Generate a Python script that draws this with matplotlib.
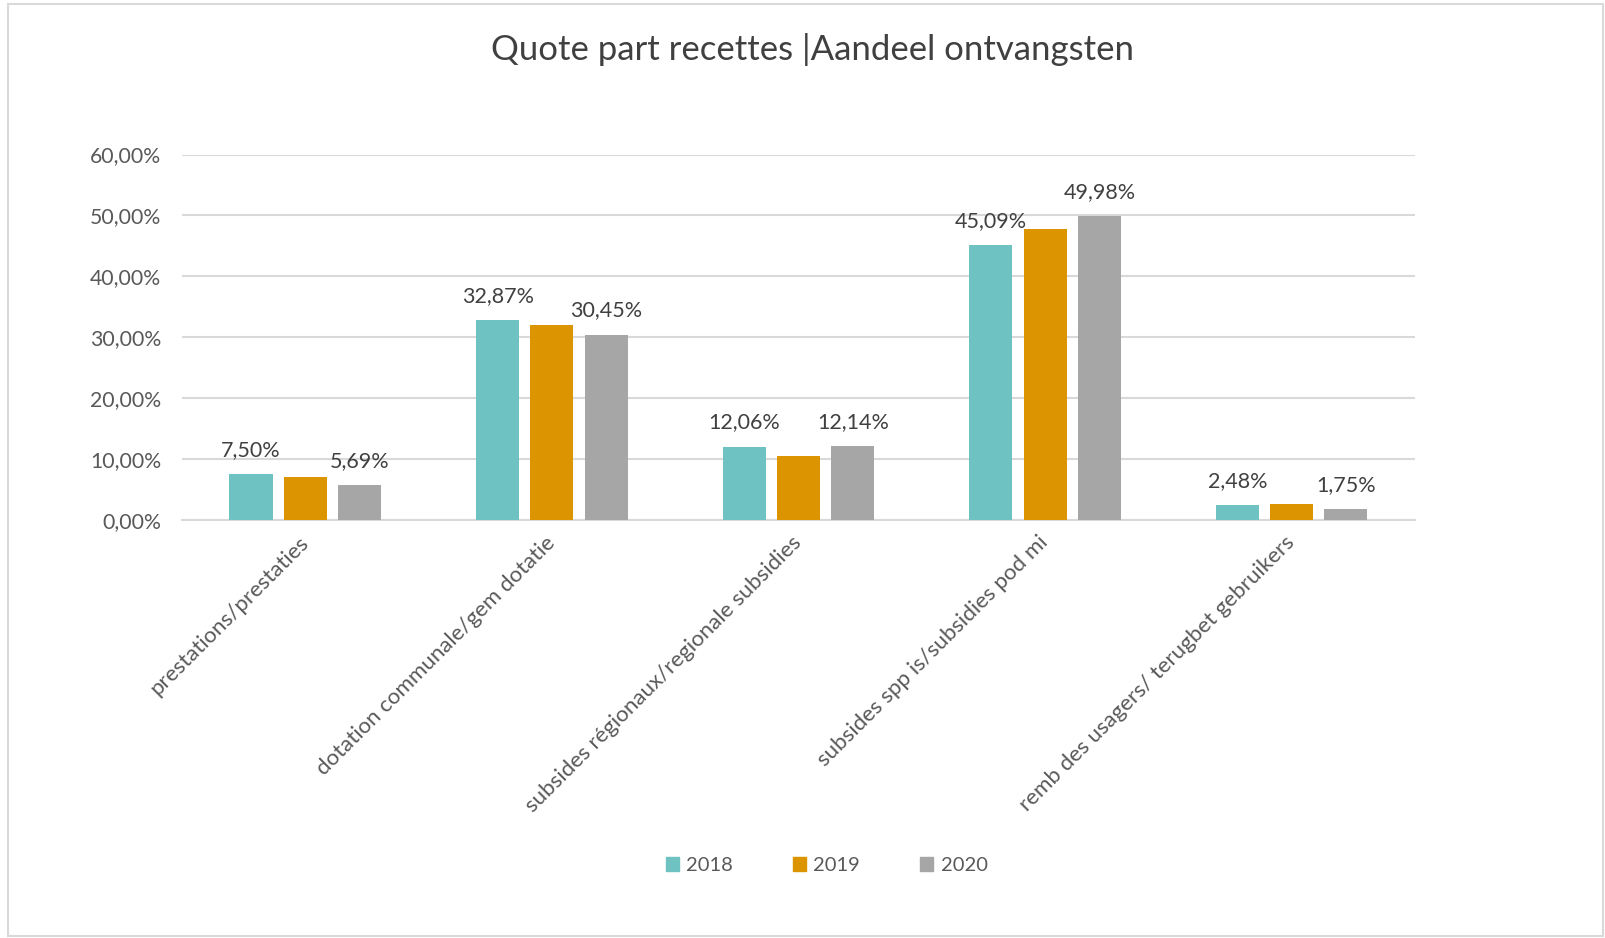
import numpy as np
import matplotlib.pyplot as plt
from matplotlib.patches import Patch, Rectangle
from matplotlib.ticker import FuncFormatter

plt.rcParams['font.family'] = ['Lato', 'DejaVu Sans']

# Data (percentages)
categories = ['prestations/prestaties', 'dotation communale/gem dotatie',
              'subsides régionaux/regionale subsidies', 'subsides spp is/subsidies pod mi',
              'remb des usagers/ terugbet gebruikers']
years = ['2018', '2019', '2020']
v2018 = [7.50, 32.87, 12.06, 45.09, 2.48]
v2019 = [7.1, 32.0, 10.5, 47.7, 2.6]
v2020 = [5.69, 30.45, 12.14, 49.98, 1.75]
labelled = [True, False, True]

colors = ['#6EC3C2', '#DC9400', '#A6A6A6']
text_col = '#404040'

fig = plt.figure(figsize=(16.05, 9.38), dpi=100)
ax = fig.add_axes([0.1134, 0.4456, 0.7682, 0.3896])

x = np.arange(len(categories))
width = 0.175
offsets = [-0.22, 0.0, 0.22]
for vals, off, col, year, lab in zip([v2018, v2019, v2020], offsets, colors, years, labelled):
    bars = ax.bar(x + off, vals, width, color=col, zorder=3, label=year)
    if lab:
        for b, v in zip(bars, vals):
            ax.annotate(f"{v:.2f}%".replace('.', ','), (b.get_x() + b.get_width() / 2, v),
                        xytext=(0, 18), textcoords='offset pixels', ha='center', va='baseline',
                        fontsize=15.5, color=text_col)

ax.set_xlim(-0.5, len(categories) - 0.5)
ax.set_ylim(0, 60)
ax.set_yticks(np.arange(0, 61, 10))
ax.yaxis.set_major_formatter(FuncFormatter(lambda v, p: f"{v:.2f}%".replace('.', ',')))
ax.grid(axis='y', color='#D9D9D9', linewidth=1.5, zorder=0)
ax.set_axisbelow(True)
for s in ['top', 'right', 'left']:
    ax.spines[s].set_visible(False)
ax.spines['bottom'].set_color('#D9D9D9')
ax.spines['bottom'].set_linewidth(1.5)
ax.tick_params(axis='both', length=0, labelsize=15.3, labelcolor='#595959')
ax.tick_params(axis='y', pad=15)
ax.set_xticks(x)
ax.set_xticklabels(categories, rotation=45, ha='right', va='center', rotation_mode='anchor',
                   fontsize=16)
ax.tick_params(axis='x', pad=14)

fig.text(0.5065, 0.947, 'Quote part recettes |Aandeel ontvangsten', ha='center', va='center',
         fontsize=25, color=text_col)

handles = [Patch(color=c) for c in colors]
fig.legend(handles, years, loc='center', bbox_to_anchor=(0.515, 0.077), ncol=3, frameon=False,
           fontsize=14.5, handlelength=0.65, handleheight=0.65, handletextpad=0.35, columnspacing=3.0,
           labelcolor='#595959')

fig.patches.append(Rectangle((0.005, 0.002), 0.994, 0.994, transform=fig.transFigure,
                             fill=False, edgecolor='#D9D9D9', linewidth=1.5))

fig.savefig('out.png', dpi=100)
